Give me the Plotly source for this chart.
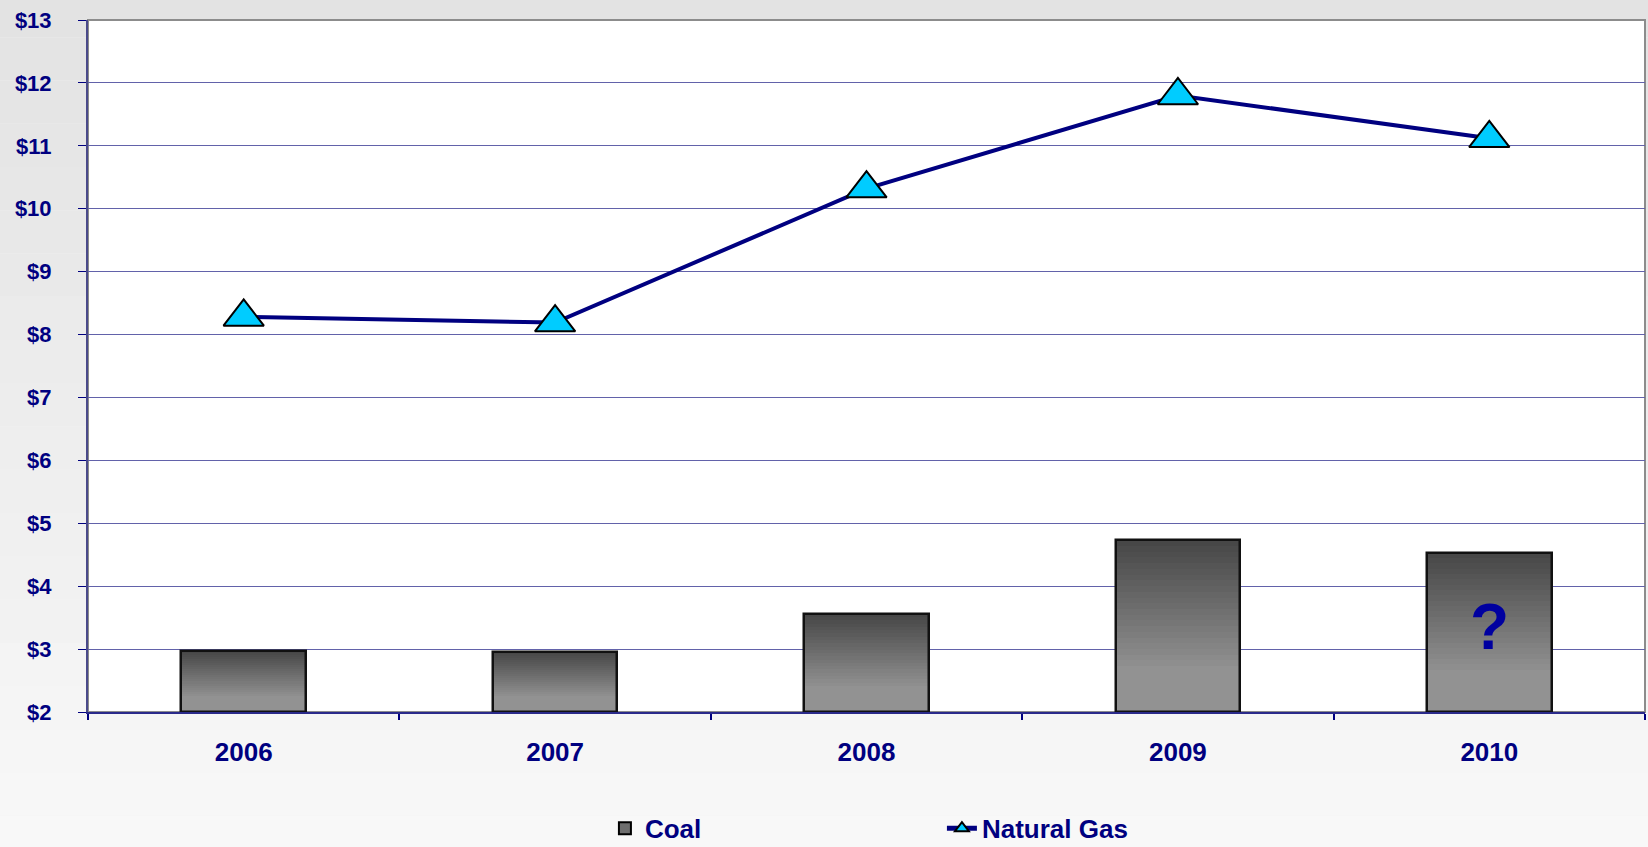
import plotly.graph_objects as go

years = ["2006", "2007", "2008", "2009", "2010"]
coal = [2.97, 2.96, 3.56, 4.73, 4.53]
natural_gas = [8.28, 8.19, 10.32, 11.80, 11.12]
y_min, y_max = 2, 13

NAVY = "#000080"
fig = go.Figure()

# legend entry + base fill for the coal bars
fig.add_trace(go.Bar(
    x=years, y=[v - y_min for v in coal], base=y_min, name="Coal",
    width=0.4, marker=dict(color="#6e6e6e", line=dict(color="black", width=2)),
))

# vertical grey gradient built from thin slices of each bar
n_slices = 30
for i in range(n_slices):
    f = (i + 0.5) / n_slices           # 0 at bottom, 1 at top
    t = min(1.0, (1 - f) / 0.75)       # 0 at top, 1 near bottom
    g = int(70 + 76 * t)
    fig.add_trace(go.Bar(
        x=years,
        y=[(v - y_min) / n_slices for v in coal],
        base=[y_min + (v - y_min) * i / n_slices for v in coal],
        width=0.4, showlegend=False, hoverinfo="skip",
        marker=dict(color=f"rgb({g},{g},{g})", line=dict(width=0)),
    ))

# outline on top
fig.add_trace(go.Bar(
    x=years, y=[v - y_min for v in coal], base=y_min, showlegend=False,
    width=0.4, marker=dict(color="rgba(0,0,0,0)", line=dict(color="#111111", width=2.5)),
))

fig.add_trace(go.Scatter(
    x=years, y=natural_gas, name="Natural Gas", mode="lines+markers",
    line=dict(color=NAVY, width=4),
    marker=dict(symbol="triangle-up", size=35, color="#00CCFF",
                line=dict(color="black", width=2)),
))

# background gradient of the page
shapes = []
n_bands = 24
for i in range(n_bands):
    g = int(226 + 26 * i / (n_bands - 1))
    shapes.append(dict(type="rect", xref="paper", yref="paper", layer="below",
                       x0=-0.1, x1=1.1, y0=1.1 - (i + 1) * 1.5 / n_bands,
                       y1=1.1 - i * 1.5 / n_bands,
                       fillcolor=f"rgb({g},{g},{g})", line=dict(width=0)))
shapes.append(dict(type="rect", xref="paper", yref="paper", layer="below",
                   x0=0, x1=1, y0=0, y1=1, fillcolor="white",
                   line=dict(color="#8c8c8c", width=2)))

# "?" over the last bar (category index, so "2010" is not read as a number)
fig.add_annotation(x=len(years) - 1, y=3.35, text="?", showarrow=False,
                   font=dict(family="Liberation Sans", size=64, color="#0000a0",
                             weight="bold"))

fig.update_layout(
    width=1648, height=847,
    margin=dict(l=88, r=3, t=20, b=135, autoexpand=False),
    paper_bgcolor="#f2f2f2", plot_bgcolor="rgba(0,0,0,0)",
    barmode="overlay", bargap=0,
    shapes=shapes,
    showlegend=True,
    legend=dict(orientation="h", x=0.332, y=-0.168, xanchor="left", yanchor="middle",
                font=dict(family="Liberation Sans", size=26, color=NAVY, weight="bold"),
                entrywidth=292, bgcolor="rgba(0,0,0,0)", traceorder="normal",
                itemsizing="constant"),
    xaxis=dict(type="category", range=[-0.5, len(years) - 0.5], showgrid=False,
               tickson="boundaries",
               ticks="outside", ticklen=6, tickcolor=NAVY, tickwidth=2,
               showline=True, linecolor="#2a2a8a", linewidth=2,
               tickfont=dict(family="Liberation Sans", size=26, color=NAVY, weight="bold"),
               ticklabelstandoff=16, tickangle=0),
    yaxis=dict(range=[y_min, y_max], dtick=1, tickprefix="$",
               showgrid=True, gridcolor="#6262aa", gridwidth=1,
               ticks="outside", ticklen=8, tickcolor=NAVY, tickwidth=1,
               showline=True, linecolor="#4a4a8a", linewidth=2,
               tickfont=dict(family="Liberation Sans", size=22, color=NAVY, weight="bold"),
               ticklabelstandoff=22, zeroline=False),
)

fig.write_html("out.html", config={"displayModeBar": False},
               post_script="document.body.style.margin='0px';")
